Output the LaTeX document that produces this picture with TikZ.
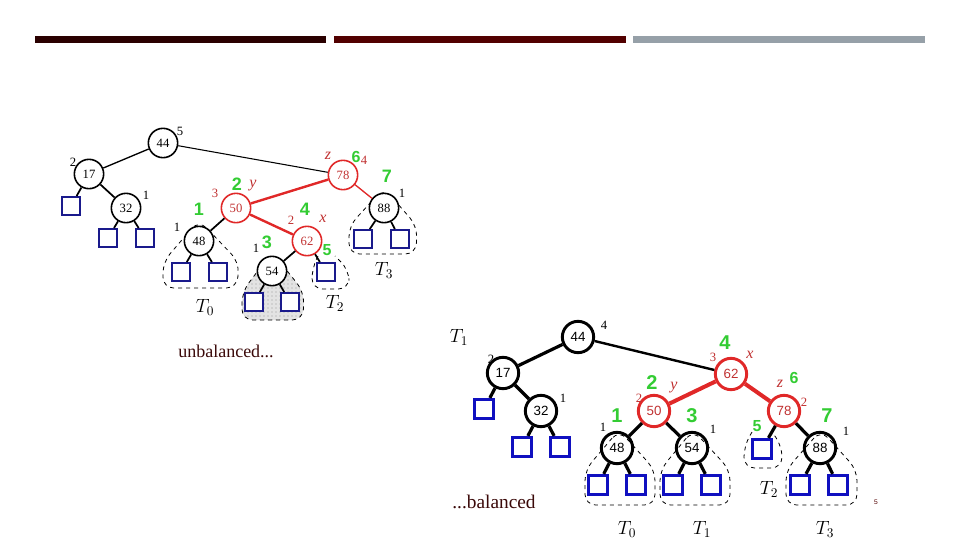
\documentclass[tikz,border=0pt]{standalone}
\usepackage{fontspec}
\setmainfont{Liberation Serif}
\newfontfamily\sansf{Liberation Sans}
\usetikzlibrary{patterns}
\definecolor{barA}{HTML}{2A0000}
\definecolor{barB}{HTML}{520000}
\definecolor{barC}{HTML}{96A0A8}
\definecolor{txtm}{HTML}{3A0808}
\definecolor{nred}{HTML}{E02828}
\definecolor{tred}{HTML}{C03030}
\definecolor{ngreen}{HTML}{33CC33}
\definecolor{sqblue}{HTML}{1A1A8C}
\definecolor{sqblueB}{HTML}{1010C0}
\tikzset{
  tnode/.style={circle,draw=black,line width=1.2pt,minimum size=22pt,inner sep=0pt,font=\fontsize{9.5}{10}\selectfont},
  trnode/.style={tnode,draw=nred,text=tred},
  tsq/.style={rectangle,draw=sqblue,line width=1.5pt,minimum size=13.5pt,inner sep=0pt},
  bnode/.style={circle,draw=black,line width=2.2pt,minimum size=23.5pt,inner sep=0pt,font=\sansf\fontsize{10}{10}\selectfont},
  brnode/.style={bnode,draw=nred,text=tred},
  bsq/.style={rectangle,draw=sqblueB,line width=2.2pt,minimum size=14.5pt,inner sep=0pt},
  tedge/.style={line width=1.3pt},
  bedge/.style={line width=2.4pt},
  sml/.style={font=\fontsize{9.5}{10}\selectfont,inner sep=0pt},
  smlr/.style={sml,text=tred},
  gl/.style={font=\sansf\bfseries\fontsize{13.5}{14}\selectfont,text=ngreen,inner sep=0pt},
  gls/.style={gl,font=\sansf\bfseries\fontsize{12}{12}\selectfont},
  letr/.style={font=\itshape\fontsize{12}{12}\selectfont,text=tred,inner sep=0pt},
  tlab/.style={font=\fontsize{14}{14}\selectfont,inner sep=0pt},
  dsh/.style={dashed,line width=0.6pt,rounded corners=8pt},
}
\begin{document}
\begin{tikzpicture}[x=0.75pt,y=-0.75pt]
\useasboundingbox (0,0) rectangle (960,540);
% header bars
\fill[barA] (35,36) rectangle (326,43);
\fill[barB] (334,36) rectangle (626,43);
\fill[barC] (633,36) rectangle (925,43);

% ---------------- top (unbalanced) tree ----------------
% subtree outlines
\fill[gray!22,rounded corners=8pt] (272,252) -- (242,292) -- (242,320) -- (303,320) -- (304,292) -- cycle;
\draw[dsh,pattern=dots,pattern color=gray!80] (272,252) -- (242,292) -- (242,320) -- (303,320) -- (304,292) -- cycle;
\draw[dsh] (199,220) -- (163,262) -- (163,288) -- (237,288) -- (239,262) -- cycle;
\draw[dsh] (318,256) -- (312,268) -- (312,289) -- (349,289) -- (349,270) -- (335,256);
\draw[dsh] (384,188) -- (349,226) -- (349,254) -- (416,254) -- (417,226) -- cycle;

\node[tnode] (a44) at (163,143) {44};
\node[tnode] (a17) at (89,174) {17};
\node[tnode] (a32) at (126,208) {32};
\node[tsq] (as1) at (71,206) {};
\node[tsq] (as2) at (108,238) {};
\node[tsq] (as3) at (145,238) {};
\node[trnode] (a78) at (343,175) {78};
\node[trnode] (a50) at (236,208) {50};
\node[trnode] (a62) at (307,241) {62};
\node[tnode,fill=white] (a48) at (199,241) {48};
\node[tsq,fill=white] (as4) at (181,272) {};
\node[tsq,fill=white] (as5) at (218,272) {};
\node[tnode,fill=white] (a54) at (272,271) {54};
\node[tsq,fill=white] (as6) at (254,302) {};
\node[tsq,fill=white] (as7) at (290,302) {};
\node[tsq,fill=white] (as8) at (326,272) {};
\node[tnode,fill=white] (a88) at (384,208) {88};
\node[tsq,fill=white] (as9) at (363,239) {};
\node[tsq,fill=white] (as10) at (400,239) {};

\draw[line width=1pt] (a44) -- (a17);
\draw[line width=0.8pt] (a44) -- (a78);
\draw[tedge] (a17) -- (as1);
\draw[tedge] (a17) -- (a32);
\draw[tedge] (a32) -- (as2);
\draw[tedge] (a32) -- (as3);
\draw[line width=1.8pt,nred] (a78) -- (a50);
\draw[line width=1.8pt,nred] (a50) -- (a62);
\draw[line width=1pt,nred] (a78) -- (a88);
\draw[tedge] (a50) -- (a48);
\draw[tedge] (a48) -- (as4);
\draw[tedge] (a48) -- (as5);
\draw[tedge] (a62) -- (a54);
\draw[tedge] (a62) -- (as8);
\draw[tedge] (a54) -- (as6);
\draw[tedge] (a54) -- (as7);
\draw[tedge] (a88) -- (as9);
\draw[tedge] (a88) -- (as10);

% labels
\node[sml] (la1) at (180,131) {5};
\node[sml] (la2) at (73,162) {2};
\node[sml] (la3) at (146,195) {1};
\node[letr] (la4) at (328,156) {z};
\node[smlr] (la5) at (364,160) {4};
\node[gls] (la6) at (356,157) {6};
\node[gl] (la7) at (387,176) {7};
\node[sml] (la8) at (402,193) {1};
\node[smlr] (la9) at (215,193) {3};
\node[gl] (la10) at (237,184) {2};
\node[letr] (la11) at (253,186) {y};
\node[gl] (la12) at (199,209) {1};
\node[sml] (la13) at (177,227) {1};
\node[gl] (la14) at (305,209) {4};
\node[smlr] (la15) at (291,220) {2};
\node[letr] (la16) at (323,219) {x};
\node[gl] (la17) at (267,242) {3};
\node[sml] (la18) at (256,248) {1};
\node[gls] (la19) at (327,250) {5};
\node[tlab] (la20) at (384,270) {$T_3$};
\node[tlab] (la21) at (335,303) {$T_2$};
\node[tlab] (la22) at (205,307) {$T_0$};

\node[font=\fontsize{13.5}{14}\selectfont,text=txtm,inner sep=0pt] (unb) at (226,351) {unbalanced...};

% ---------------- bottom (balanced) tree ----------------
\draw[dsh] (619,430) -- (585,470) -- (585,505) -- (655,505) -- (655,470) -- cycle;
\draw[dsh] (693,430) -- (660,470) -- (660,505) -- (730,505) -- (730,470) -- cycle;
\draw[dsh] (752,432) -- (744,446) -- (744,468) -- (782,468) -- (782,446) -- (772,432);
\draw[dsh] (821,430) -- (786,470) -- (786,505) -- (857,505) -- (857,470) -- cycle;

\node[bnode] (b44) at (578,337) {44};
\node[bnode] (b17) at (503,373) {17};
\node[bnode] (b32) at (541,411) {32};
\node[bsq] (bs1) at (484,409) {};
\node[bsq] (bs2) at (522,447) {};
\node[bsq] (bs3) at (560,447) {};
\node[brnode] (b62) at (731,374) {62};
\node[brnode] (b50) at (654,411) {50};
\node[brnode] (b78) at (784,411) {78};
\node[bnode] (b48) at (617,448) {48};
\node[bnode] (b54) at (692,448) {54};
\node[bnode] (b88) at (820,448) {88};
\node[bsq] (bs4) at (598,485) {};
\node[bsq] (bs5) at (636,485) {};
\node[bsq] (bs6) at (673,485) {};
\node[bsq] (bs7) at (711,485) {};
\node[bsq] (bs8) at (762,449) {};
\node[bsq] (bs9) at (800,485) {};
\node[bsq] (bs10) at (838,485) {};

\draw[bedge] (b44) -- (b17);
\draw[line width=1.8pt] (b44) -- (b62);
\draw[bedge] (b17) -- (bs1);
\draw[bedge] (b17) -- (b32);
\draw[bedge] (b32) -- (bs2);
\draw[bedge] (b32) -- (bs3);
\draw[line width=3pt,nred] (b62) -- (b50);
\draw[line width=3pt,nred] (b62) -- (b78);
\draw[bedge] (b50) -- (b48);
\draw[bedge] (b50) -- (b54);
\draw[bedge] (b78) -- (bs8);
\draw[bedge] (b78) -- (b88);
\draw[bedge] (b48) -- (bs4);
\draw[bedge] (b48) -- (bs5);
\draw[bedge] (b54) -- (bs6);
\draw[bedge] (b54) -- (bs7);
\draw[bedge] (b88) -- (bs9);
\draw[bedge] (b88) -- (bs10);

\node[tlab] (lb1) at (459,337) {$T_1$};
\node[sml] (lb2) at (604,325) {4};
\node[sml] (lb3) at (491,359) {2};
\node[sml] (lb4) at (563,398) {1};
\node[gl,font=\sansf\bfseries\fontsize{15}{15}\selectfont] (lb5) at (725,343) {4};
\node[smlr] (lb6) at (713,357) {3};
\node[letr] (lb7) at (750,355) {x};
\node[gl,font=\sansf\bfseries\fontsize{15}{15}\selectfont] (lb8) at (652,383) {2};
\node[letr] (lb9) at (674,388) {y};
\node[smlr] (lb10) at (639,398) {2};
\node[letr] (lb11) at (780,384) {z};
\node[gls] (lb12) at (794,378) {6};
\node[smlr] (lb13) at (804,402) {2};
\node[gl,font=\sansf\bfseries\fontsize{15}{15}\selectfont] (lb14) at (617,416) {1};
\node[sml] (lb15) at (603,427) {1};
\node[gl,font=\sansf\bfseries\fontsize{15}{15}\selectfont] (lb16) at (692,416) {3};
\node[sml] (lb17) at (713,429) {1};
\node[gls] (lb18) at (757,426) {5};
\node[gl,font=\sansf\bfseries\fontsize{15}{15}\selectfont] (lb19) at (827,416) {7};
\node[sml] (lb20) at (846,431) {1};
\node[tlab] (lb21) at (769,489) {$T_2$};
\node[tlab] (lb22) at (627,529) {$T_0$};
\node[tlab] (lb23) at (702,529) {$T_1$};
\node[tlab] (lb24) at (825,529) {$T_3$};

\node[font=\fontsize{14.5}{15}\selectfont,text=txtm,inner sep=0pt] (bal) at (494,502) {...balanced};
\node[font=\sansf\fontsize{5}{6}\selectfont,text=barB,inner sep=0pt] (pg) at (876,502) {5};
\end{tikzpicture}
\end{document}
